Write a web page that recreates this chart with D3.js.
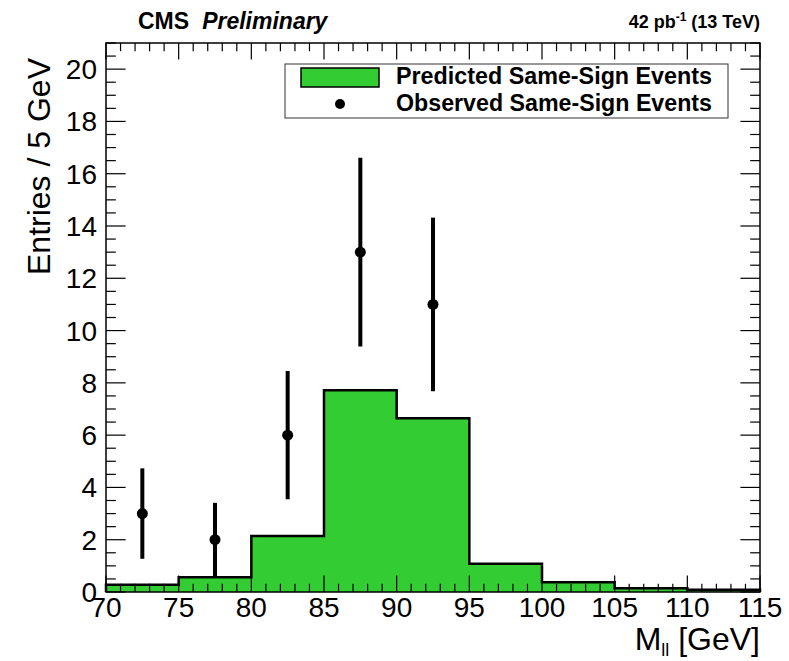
<!DOCTYPE html>
<html>
<head>
<meta charset="utf-8">
<script src="https://cdn.jsdelivr.net/npm/d3@7"></script>
<style>
  html, body { margin: 0; padding: 0; background: #fff; }
  svg { display: block; font-family: "Liberation Sans", Arial, Helvetica, sans-serif; }
</style>
</head>
<body>
<svg id="chart" width="789" height="661"></svg>
<script>
// ---- data ----
const binEdges = [70, 75, 80, 85, 90, 95, 100, 105, 110, 115];
const predicted = [0.28, 0.56, 2.14, 7.72, 6.65, 1.08, 0.37, 0.14, 0.09];
const obsX = [72.5, 77.5, 82.5, 87.5, 92.5];
const observed = [3, 2, 6, 13, 11];
const obsErrLow = [1.73, 1.41, 2.45, 3.61, 3.32];
const obsErrHigh = [1.73, 1.41, 2.45, 3.61, 3.32];
const xTicks = [70, 75, 80, 85, 90, 95, 100, 105, 110, 115];
const yTicks = [0, 2, 4, 6, 8, 10, 12, 14, 16, 18, 20];
const legendLabels = ["Predicted Same-Sign Events", "Observed Same-Sign Events"];

// ---- layout ----
const W = 789, H = 661;
const L = 106, R = 760, T = 43, B = 592;
const green = "#33cc33";

const svg = d3.select("#chart");
svg.append("rect").attr("width", W).attr("height", H).attr("fill", "#fff");

const x = d3.scaleLinear().domain([70, 115]).range([L, R]);
const y = d3.scaleLinear().domain([0, 21]).range([B, T]);

// histogram as a single step path (fill + outline)
const bins = predicted.map((v, i) => ({ x0: binEdges[i], x1: binEdges[i + 1], v }));
const stepPts = [];
stepPts.push([binEdges[0], 0]);
bins.forEach(d => { stepPts.push([d.x0, d.v]); stepPts.push([d.x1, d.v]); });
stepPts.push([binEdges[binEdges.length - 1], 0]);
const stepLine = d3.line().x(d => x(d[0])).y(d => y(d[1]));
svg.append("path")
  .attr("d", stepLine(stepPts) + "Z")
  .attr("fill", green).attr("stroke", "none");
svg.append("path")
  .attr("d", stepLine(stepPts))
  .attr("fill", "none").attr("stroke", "#000").attr("stroke-width", 2.5)
  .attr("stroke-linejoin", "miter");

// axes ticks (ROOT style, inside)
const tickG = svg.append("g").attr("stroke", "#000").attr("stroke-width", 1.2);
const xMajLen = 16.5, xMinLen = 8.2, yMajLen = 19.6, yMinLen = 9.8;
for (let v = 70; v <= 115.001; v += 1) {
  const isMaj = Math.abs(v % 5) < 1e-6;
  const len = isMaj ? xMajLen : xMinLen;
  const px = x(v);
  tickG.append("line").attr("x1", px).attr("x2", px).attr("y1", B).attr("y2", B - len);
  tickG.append("line").attr("x1", px).attr("x2", px).attr("y1", T).attr("y2", T + len);
}
for (let v = 0; v <= 21.001; v += 0.5) {
  const isMaj = Math.abs(v % 2) < 1e-6;
  const len = isMaj ? yMajLen : yMinLen;
  const py = y(v);
  tickG.append("line").attr("x1", L).attr("x2", L + len).attr("y1", py).attr("y2", py);
  tickG.append("line").attr("x1", R).attr("x2", R - len).attr("y1", py).attr("y2", py);
}

// frame
svg.append("rect").attr("x", L).attr("y", T).attr("width", R - L).attr("height", B - T)
  .attr("fill", "none").attr("stroke", "#000").attr("stroke-width", 1.5);

// tick labels
svg.append("g").selectAll("text").data(xTicks).join("text")
  .attr("x", d => x(d)).attr("y", 617).attr("text-anchor", "middle")
  .attr("font-size", 28).attr("fill", "#000").text(d => d);
svg.append("g").selectAll("text").data(yTicks).join("text")
  .attr("x", 97).attr("y", d => y(d) + 10).attr("text-anchor", "end")
  .attr("font-size", 28).attr("fill", "#000").text(d => d);

// axis titles
svg.append("text")
  .attr("transform", `translate(50,58) rotate(-90)`)
  .attr("text-anchor", "end").attr("font-size", 32).attr("fill", "#000")
  .text("Entries / 5 GeV");
const xt = svg.append("text").attr("x", R).attr("y", 650).attr("text-anchor", "end")
  .attr("font-size", 32).attr("fill", "#000");
xt.append("tspan").text("M");
xt.append("tspan").attr("font-size", 18).attr("dy", 6).text("ll");
xt.append("tspan").attr("dy", -6).text(" [GeV]");

// observed points with error bars
const obs = observed.map((v, i) => ({ x: obsX[i], v, lo: obsErrLow[i], hi: obsErrHigh[i] }));
const og = svg.append("g");
og.selectAll("line").data(obs).join("line")
  .attr("x1", d => x(d.x)).attr("x2", d => x(d.x))
  .attr("y1", d => y(d.v - d.lo)).attr("y2", d => y(d.v + d.hi))
  .attr("stroke", "#000").attr("stroke-width", 4);
og.selectAll("circle").data(obs).join("circle")
  .attr("cx", d => x(d.x)).attr("cy", d => y(d.v)).attr("r", 5.5).attr("fill", "#000");

// legend
const lg = svg.append("g");
lg.append("rect").attr("x", 285).attr("y", 64).attr("width", 443).attr("height", 54)
  .attr("fill", "#fff").attr("stroke", "#333").attr("stroke-width", 1);
lg.append("rect").attr("x", 301).attr("y", 68).attr("width", 78).attr("height", 19)
  .attr("fill", green).attr("stroke", "#000").attr("stroke-width", 1.5);
lg.append("circle").attr("cx", 340).attr("cy", 104).attr("r", 5).attr("fill", "#000");
lg.selectAll("text").data(legendLabels).join("text")
  .attr("x", 396).attr("y", (d, i) => 84 + i * 27)
  .attr("font-size", 23).attr("font-weight", "bold").attr("fill", "#000")
  .attr("textLength", 316).attr("lengthAdjust", "spacingAndGlyphs").text(d => d);

// header
const hdr = svg.append("text").attr("x", 138).attr("y", 29).attr("font-size", 23).attr("fill", "#000");
hdr.append("tspan").attr("font-weight", "bold").text("CMS");
hdr.append("tspan").attr("font-weight", "bold").attr("font-style", "italic").attr("dx", 13).text("Preliminary");
const lumi = svg.append("text").attr("x", R).attr("y", 28).attr("text-anchor", "end")
  .attr("font-size", 18).attr("font-weight", "bold").attr("fill", "#000");
lumi.append("tspan").text("42 pb");
lumi.append("tspan").attr("font-size", 12).attr("dy", -7).text("-1");
lumi.append("tspan").attr("dy", 7).text(" (13 TeV)");
</script>
</body>
</html>
